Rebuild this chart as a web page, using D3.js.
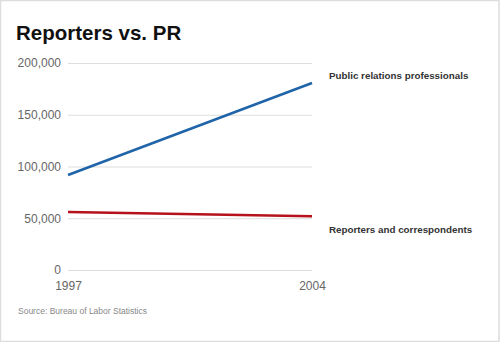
<!DOCTYPE html>
<html><head><meta charset="utf-8">
<script src="https://cdn.jsdelivr.net/npm/d3@7"></script>
<style>
body{margin:0;background:#fff;}
svg{display:block;}
</style></head>
<body>
<script>
const years = [1997, 2004];
const prValues = [91800, 180700];
const reporterValues = [56000, 52000];
const seriesNames = ["Public relations professionals", "Reporters and correspondents"];
const yTicks = [0, 50000, 100000, 150000, 200000];

const W = 500, H = 342;
const svg = d3.select("body").append("svg").attr("width", W).attr("height", H);
svg.append("rect").attr("x",0.5).attr("y",0.5).attr("width",W-1.5).attr("height",H-1)
  .attr("fill","#fff").attr("stroke","#ddd").attr("stroke-width",1.5);

const x = d3.scaleLinear().domain(d3.extent(years)).range([68, 312]);
const y = d3.scaleLinear().domain([0, 200000]).range([270, 63]);

svg.append("text").attr("x",16).attr("y",40).text("Reporters vs. PR")
  .attr("font-family","Liberation Sans, Arial, sans-serif").attr("font-weight","bold")
  .attr("font-size",20.5).attr("fill","#111");

const yAxis = svg.append("g").attr("transform","translate(68,0)")
  .call(d3.axisLeft(y).tickValues(yTicks).tickSize(-244).tickPadding(7)
    .tickFormat(d => d3.format(",")(d)));
yAxis.select(".domain").remove();
yAxis.selectAll(".tick line").attr("stroke","#ddd");
yAxis.selectAll(".tick text").attr("fill","#666").attr("font-size",12)
  .attr("font-family","Liberation Sans, Arial, sans-serif");

const xAxis = svg.append("g").attr("transform","translate(0,270)")
  .call(d3.axisBottom(x).tickValues(years).tickSize(0).tickPadding(11).tickFormat(d3.format("d")));
xAxis.select(".domain").remove();
xAxis.selectAll(".tick text").attr("fill","#666").attr("font-size",12)
  .attr("font-family","Liberation Sans, Arial, sans-serif");

const line = d3.line().x((d,i)=>x(years[i])).y(d=>y(d));
svg.append("path").datum(prValues).attr("d",line).attr("fill","none")
  .attr("stroke","#1f64a8").attr("stroke-width",2.5);
svg.append("path").datum(reporterValues).attr("d",line).attr("fill","none")
  .attr("stroke","#b5121b").attr("stroke-width",2.5);

const lbl = [[seriesNames[0], 79], [seriesNames[1], 233]];
lbl.forEach(([t,yy]) => svg.append("text").attr("x",329).attr("y",yy).text(t)
  .attr("font-family","Liberation Sans, Arial, sans-serif").attr("font-weight","bold")
  .attr("font-size",9.8).attr("fill","#333"));

svg.append("text").attr("x",18).attr("y",314).text("Source: Bureau of Labor Statistics")
  .attr("font-family","Liberation Sans, Arial, sans-serif").attr("font-size",8.5)
  .attr("fill","#888");
</script>
</body></html>
